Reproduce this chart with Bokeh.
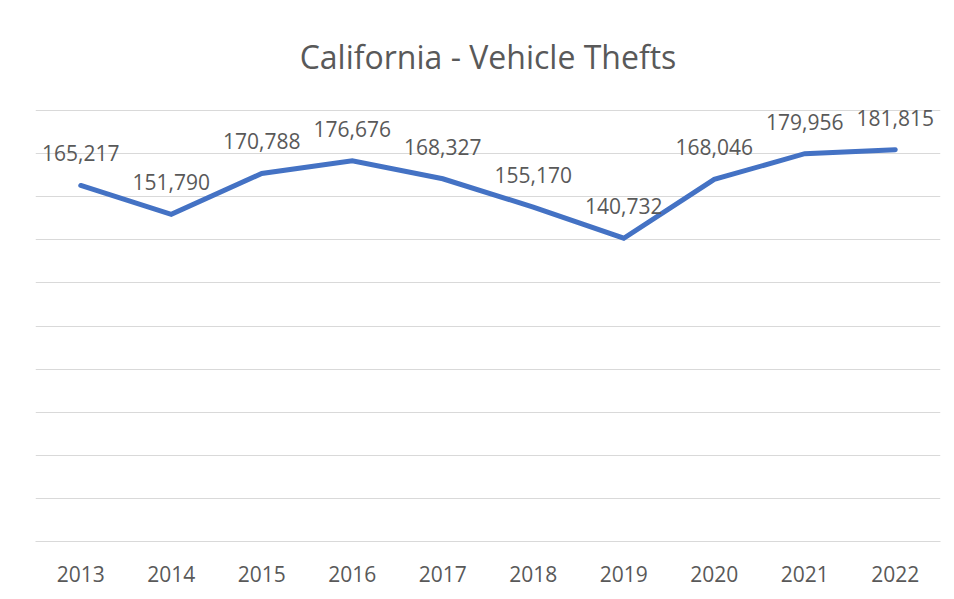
from bokeh.plotting import figure
from bokeh.models import ColumnDataSource, FactorRange, Range1d, SingleIntervalTicker
from bokeh.core.properties import value
from bokeh.embed import file_html
from bokeh.resources import INLINE

years = ["2013", "2014", "2015", "2016", "2017", "2018", "2019", "2020", "2021", "2022"]
thefts = [165217, 151790, 170788, 176676, 168327, 155170, 140732, 168046, 179956, 181815]
labels = [f"{v:,}" for v in thefts]
title_text = "California - Vehicle Thefts"

Y_MAX = 200000
FRAME_H = 431
px = Y_MAX / FRAME_H  # data units per pixel

FONT = "Open Sans"
TEXT_COLOR = "#595959"
GRID_COLOR = "#d9d9d9"
LINE_COLOR = "#4472C4"

p = figure(
    width=954, height=599,
    x_range=FactorRange(factors=years, range_padding=0),
    y_range=Range1d(0, Y_MAX + px),
    output_backend="svg", toolbar_location=None,
    min_border_left=35, min_border_right=14, min_border_top=109, min_border_bottom=58,
)
p.outline_line_color = None
p.background_fill_color = "white"
p.border_fill_color = "white"

p.title.text = title_text
p.title.align = "center"
p.title.text_font = FONT
p.title.text_font_size = "32px"
p.title.text_font_style = "normal"
p.title.text_color = TEXT_COLOR
p.title.standoff = 64

p.yaxis.visible = False
p.yaxis.ticker = SingleIntervalTicker(interval=20000)
p.ygrid.ticker = SingleIntervalTicker(interval=20000)
p.ygrid.grid_line_color = GRID_COLOR
p.ygrid.grid_line_width = 1
p.xgrid.grid_line_color = None

p.xaxis.axis_line_color = GRID_COLOR
p.xaxis.axis_line_width = 1
p.xaxis.major_tick_line_color = None
p.xaxis.minor_tick_line_color = None
p.xaxis.major_label_text_font = FONT
p.xaxis.major_label_text_font_size = "21px"
p.xaxis.major_label_text_color = TEXT_COLOR
p.xaxis.major_label_standoff = 18

src = ColumnDataSource(dict(x=years, y=thefts, lab=labels, ly=[v + 32 * px for v in thefts]))
p.line("x", "y", source=src, line_color=LINE_COLOR, line_width=5, line_cap="round", line_join="miter")
p.text("x", "ly", text="lab", source=src, text_font=value(FONT), text_font_size="21px",
       text_color=TEXT_COLOR, text_align="center", text_baseline="alphabetic")

open("out.html", "w").write(file_html(p, INLINE))
